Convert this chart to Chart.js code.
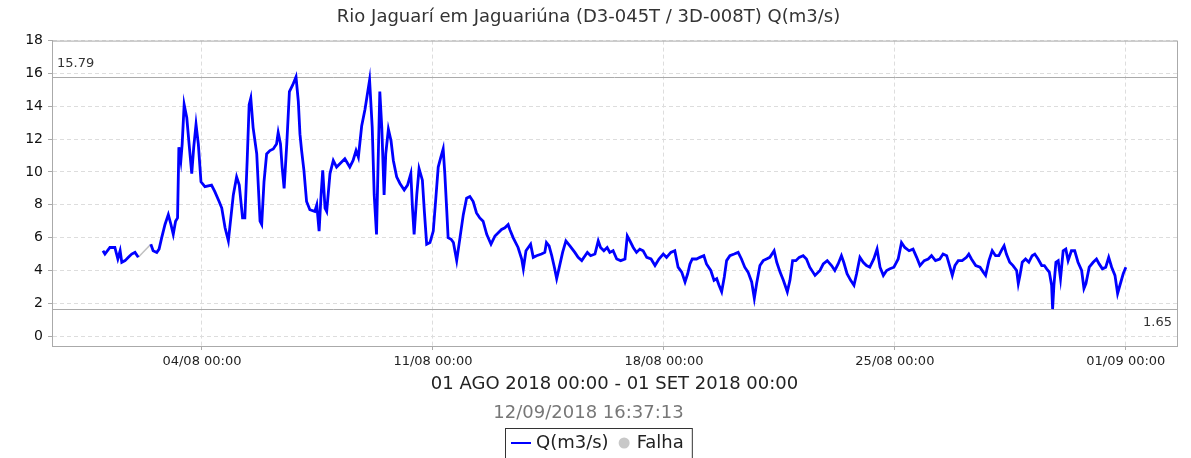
<!DOCTYPE html>
<html>
<head>
<meta charset="utf-8">
<script src="https://cdn.jsdelivr.net/npm/chart.js"></script>
<style>
  html, body { margin: 0; padding: 0; background: #fff; }
  #chart-wrapper { width: 1191px; height: 458px; }
</style>
</head>
<body>
<div id="chart-wrapper"><canvas id="myChart" width="1191" height="458"></canvas></div>
<script>
// days since 01/08/2018 00:00 and flow Q (m3/s)
const flowDays = [
  0.00, 0.06, 0.21, 0.36, 0.45, 0.52, 0.57, 0.67, 0.77, 0.87, 0.97, 1.07, 1.25,
  1.45, 1.52, 1.63, 1.70, 1.78, 1.88, 1.98, 2.06, 2.13, 2.20, 2.26, 2.30, 2.36, 2.40,
  2.46, 2.54, 2.61, 2.69, 2.75, 2.82, 2.89, 2.97, 3.09, 3.29, 3.39, 3.52, 3.60, 3.70,
  3.80, 3.95, 4.05, 4.13, 4.23, 4.30, 4.37, 4.43, 4.48, 4.55, 4.66, 4.76, 4.81, 4.88,
  4.96, 5.06, 5.16, 5.26, 5.31, 5.38, 5.43, 5.49, 5.57, 5.65, 5.75, 5.85, 5.92, 5.97,
  6.02, 6.09, 6.17, 6.27, 6.42, 6.48, 6.55, 6.61, 6.66, 6.73, 6.78, 6.88, 6.98, 7.08,
  7.18, 7.33, 7.48, 7.58, 7.67, 7.74, 7.84, 7.94, 8.08, 8.16, 8.22, 8.29, 8.34, 8.39,
  8.45, 8.52, 8.57, 8.65, 8.73, 8.80, 8.90, 9.00, 9.13, 9.23, 9.33, 9.38, 9.43, 9.51,
  9.58, 9.68, 9.74, 9.81, 9.91, 10.01, 10.08, 10.16, 10.24, 10.31, 10.36, 10.42, 10.46,
  10.55, 10.62, 10.72, 10.82, 10.92, 11.02, 11.12, 11.22, 11.32, 11.42, 11.52, 11.63,
  11.76, 11.88, 11.98, 12.08, 12.18, 12.28, 12.33, 12.43, 12.58, 12.69, 12.74, 12.82,
  12.89, 12.96, 13.04, 13.14, 13.29, 13.39, 13.44, 13.52, 13.60, 13.68, 13.75, 13.83,
  13.93, 14.03, 14.15, 14.30, 14.40, 14.51, 14.61, 14.68, 14.78, 14.91, 15.01, 15.08,
  15.18, 15.28, 15.36, 15.46, 15.57, 15.69, 15.82, 15.89, 15.97, 16.07, 16.17, 16.27,
  16.37, 16.48, 16.61, 16.73, 16.85, 16.98, 17.08, 17.21, 17.33, 17.43, 17.54, 17.64,
  17.72, 17.79, 17.86, 17.99, 18.09, 18.21, 18.29, 18.42, 18.52, 18.60, 18.67, 18.75,
  18.83, 18.90, 19.00, 19.13, 19.25, 19.35, 19.45, 19.55, 19.66, 19.74, 19.81, 19.91,
  20.01, 20.11, 20.21, 20.34, 20.42, 20.52, 20.62, 20.74, 20.82, 20.90, 21.00, 21.10,
  21.22, 21.32, 21.42, 21.58, 21.73, 21.83, 21.95, 22.08, 22.18, 22.28, 22.38, 22.45,
  22.55, 22.66, 22.76, 22.84, 22.94, 23.04, 23.14, 23.24, 23.36, 23.46, 23.55, 23.65,
  23.75, 23.85, 23.97, 24.10, 24.20, 24.30, 24.43, 24.55, 24.66, 24.76, 24.89, 25.01,
  25.11, 25.23, 25.36, 25.46, 25.57, 25.67, 25.74, 25.82, 25.92, 26.04, 26.17, 26.24,
  26.32, 26.45, 26.58, 26.68, 26.75, 26.85, 26.95, 27.05, 27.15, 27.25, 27.31, 27.38,
  27.48, 27.58, 27.69, 27.74, 27.79, 27.86, 27.96, 28.06, 28.16, 28.24, 28.34, 28.45,
  28.53, 28.60, 28.68, 28.75, 28.78, 28.82, 28.88, 28.95, 29.02, 29.10, 29.18, 29.25,
  29.35, 29.45, 29.55, 29.66, 29.73, 29.79, 29.89, 30.01, 30.11, 30.19, 30.29, 30.39,
  30.48, 30.57, 30.67, 30.75, 30.82, 30.92, 31.00
];
const flowValues = [
  5.2, 5.0, 5.4, 5.4, 4.7, 5.2, 4.5, 4.6, 4.8, 5.0, 5.1, 4.8, null,
  5.6, 5.2, 5.1, 5.3, 6.0, 6.8, 7.4, 6.8, 6.2, 7.0, 7.2, 11.5, 10.7, 11.7,
  14.1, 13.3, 11.7, 9.9, 11.5, 12.9, 11.7, 9.4, 9.1, 9.2, 8.8, 8.2, 7.8, 6.6,
  5.8, 8.6, 9.7, 9.2, 7.2, 7.2, 10.7, 14.1, 14.5, 12.7, 11.1, 7.0, 6.8, 9.4,
  11.1, 11.3, 11.4, 11.7, 12.4, 11.7, 10.3, 9.0, 11.7, 14.9, 15.3, 15.79, 14.3, 12.3,
  11.3, 10.1, 8.2, 7.7, 7.6, 8.0, 6.4, 8.6, 10.1, 7.8, 7.6, 9.9, 10.7, 10.3,
  10.5, 10.8, 10.3, 10.7, 11.3, 10.9, 12.8, 13.8, 15.6, 12.7, 8.6, 6.2, 10.7, 14.9,
  12.7, 8.6, 11.1, 12.6, 11.9, 10.7, 9.7, 9.3, 8.9, 9.2, 9.9, 7.8, 6.2, 8.6,
  10.2, 9.5, 7.6, 5.6, 5.7, 6.4, 8.2, 10.3, 10.9, 11.4, 9.9, 7.6, 6.0,
  5.9, 5.7, 4.6, 6.0, 7.4, 8.4, 8.5, 8.2, 7.5, 7.2, 7.0, 6.2,
  5.6, 6.1, 6.3, 6.5, 6.6, 6.8, 6.5, 6.0, 5.4, 4.7, 4.1, 5.2,
  5.4, 5.6, 4.8, 4.9, 5.0, 5.1, 5.7, 5.5, 4.9, 4.2, 3.5, 4.2,
  5.1, 5.8, 5.5, 5.1, 4.8, 4.6, 4.9, 5.1, 4.9, 5.0, 5.8, 5.4,
  5.2, 5.4, 5.1, 5.2, 4.7, 4.6, 4.7, 6.1, 5.8, 5.4, 5.1, 5.3,
  5.2, 4.8, 4.7, 4.3, 4.7, 5.0, 4.8, 5.1, 5.2, 4.2, 3.9, 3.3,
  3.8, 4.4, 4.7, 4.7, 4.8, 4.9, 4.4, 4.0, 3.4, 3.5, 3.1, 2.7,
  3.6, 4.6, 4.9, 5.0, 5.1, 4.7, 4.2, 3.9, 3.3, 2.3, 3.2, 4.3,
  4.6, 4.7, 4.8, 5.2, 4.5, 3.9, 3.4, 2.7, 3.4, 4.6, 4.6, 4.8,
  4.9, 4.7, 4.2, 3.7, 4.0, 4.4, 4.6, 4.3, 4.0, 4.4, 4.9, 4.5,
  3.8, 3.4, 3.1, 3.8, 4.8, 4.5, 4.3, 4.2, 4.7, 5.3, 4.2, 3.7,
  4.0, 4.1, 4.2, 4.7, 5.7, 5.4, 5.2, 5.3, 4.8, 4.3, 4.6, 4.7,
  4.9, 4.6, 4.7, 5.0, 4.9, 4.2, 3.7, 4.3, 4.6, 4.6, 4.8, 5.0,
  4.7, 4.3, 4.2, 3.9, 3.7, 4.6, 5.2, 4.9, 4.9, 5.3, 5.5, 5.0,
  4.5, 4.3, 4.0, 3.2, 3.7, 4.5, 4.7, 4.5, 4.9, 5.0, 4.7, 4.3,
  4.3, 4.1, 3.9, 3.1, 1.65, 3.1, 4.5, 4.6, 3.5, 5.2, 5.3, 4.6,
  5.2, 5.2, 4.5, 4.0, 2.9, 3.2, 4.2, 4.5, 4.7, 4.4, 4.1, 4.2,
  4.8, 4.2, 3.7, 2.6, 3.1, 3.8, 4.2
];

// "Falha" stretch (missing data bridged in grey)
const gapDays = [1.07, 1.45];
const gapValues = [4.8, 5.6];

const xTickDays = [3, 10, 17, 24, 31];
const xTickLabels = ['04/08 00:00', '11/08 00:00', '18/08 00:00', '25/08 00:00', '01/09 00:00'];
const yTickValues = [0, 2, 4, 6, 8, 10, 12, 14, 16, 18];

const MAX_Q = 15.79;
const MIN_Q = 1.65;

const FONT = '"DejaVu Sans", sans-serif';

const toPoints = (xs, ys) => xs.map((x, i) => ({ x: x, y: ys[i] }));

const extrasPlugin = {
  id: 'extras',
  beforeDatasetsDraw(chart) {
    const { ctx, chartArea: a } = chart;
    const y = chart.scales.y;
    ctx.save();
    ctx.strokeStyle = '#aaaaaa';
    ctx.lineWidth = 1;
    [MAX_Q, MIN_Q].forEach(v => {
      const py = Math.round(y.getPixelForValue(v)) + 0.5;
      ctx.beginPath();
      ctx.moveTo(a.left, py);
      ctx.lineTo(a.right, py);
      ctx.stroke();
    });
    ctx.font = '13px ' + FONT;
    ctx.fillStyle = '#333';
    ctx.textAlign = 'left';
    ctx.textBaseline = 'bottom';
    ctx.fillText(MAX_Q.toFixed(2), a.left + 5, y.getPixelForValue(MAX_Q) - 7);
    ctx.textAlign = 'right';
    ctx.textBaseline = 'top';
    ctx.fillText(MIN_Q.toFixed(2), a.right - 5, y.getPixelForValue(MIN_Q) + 7);
    ctx.restore();
  },
  afterDraw(chart) {
    const { ctx, chartArea: a } = chart;
    ctx.save();
    // plot frame
    ctx.strokeStyle = '#aaaaaa';
    ctx.lineWidth = 1;
    ctx.strokeRect(a.left + 0.5, a.top + 0.5, a.right - a.left, a.bottom - a.top);

    // boxed legend at the bottom
    const ds = chart.data.datasets;
    ctx.font = '18px ' + FONT;
    const w1 = ctx.measureText(ds[0].label).width;
    const w2 = ctx.measureText(ds[1].label).width;
    const total = 6 + 20 + 5 + w1 + 10 + 11 + 7 + w2 + 8;
    const left = Math.round(chart.width / 2 - total / 2 + 3);
    const cy = 443;
    ctx.strokeStyle = '#333';
    ctx.strokeRect(left + 0.5, 428.5, total, 40);
    let x = left + 6;
    ctx.strokeStyle = ds[0].borderColor;
    ctx.lineWidth = 2;
    ctx.beginPath();
    ctx.moveTo(x, cy);
    ctx.lineTo(x + 20, cy);
    ctx.stroke();
    x += 25;
    ctx.fillStyle = '#222';
    ctx.textAlign = 'left';
    ctx.textBaseline = 'middle';
    ctx.fillText(ds[0].label, x, cy);
    x += w1 + 10;
    ctx.fillStyle = '#c8c8c8';
    ctx.beginPath();
    ctx.arc(x + 5.5, cy, 5.5, 0, Math.PI * 2);
    ctx.fill();
    x += 18;
    ctx.fillStyle = '#222';
    ctx.fillText(ds[1].label, x, cy);
    ctx.restore();
  }
};

const ctx = document.getElementById('myChart');
new Chart(ctx, {
  type: 'line',
  data: {
    datasets: [
      {
        label: 'Q(m3/s)',
        data: toPoints(flowDays, flowValues),
        borderColor: '#0000ff',
        borderWidth: 2.8,
        pointRadius: 0,
        tension: 0,
        spanGaps: false,
        fill: false
      },
      {
        label: 'Falha',
        data: toPoints(gapDays, gapValues),
        borderColor: '#c0c0c0',
        borderWidth: 1.5,
        pointRadius: 0,
        fill: false
      }
    ]
  },
  options: {
    responsive: false,
    animation: false,
    devicePixelRatio: 1,
    layout: { padding: { left: 0, right: 14, top: 0, bottom: 34 } },
    plugins: {
      legend: { display: false },
      tooltip: { enabled: false },
      title: {
        display: true,
        text: 'Rio Jaguarí em Jaguariúna (D3-045T / 3D-008T) Q(m3/s)',
        color: '#333',
        font: { family: FONT, size: 18, weight: 'normal' },
        padding: { top: 7, bottom: 12 }
      },
      subtitle: {
        display: true,
        position: 'bottom',
        weight: 500,
        text: '12/09/2018 16:37:13',
        color: '#777',
        font: { family: FONT, size: 18, weight: 'normal' },
        padding: { top: 8, bottom: 0 }
      }
    },
    scales: {
      x: {
        type: 'linear',
        min: -1.545,
        max: 32.55,
        afterBuildTicks: scale => { scale.ticks = xTickDays.map(v => ({ value: v })); },
        ticks: {
          autoSkip: false,
          maxRotation: 0,
          padding: 4,
          color: '#222',
          font: { family: FONT, size: 13 },
          callback: value => xTickLabels[xTickDays.indexOf(value)]
        },
        grid: { color: '#dddddd', tickColor: '#aaaaaa', tickLength: 4 },
        border: { color: '#aaaaaa', dash: [4, 3] },
        title: {
          display: true,
          text: '01 AGO 2018 00:00 - 01 SET 2018 00:00',
          color: '#222',
          font: { family: FONT, size: 18, lineHeight: 1.1 },
          padding: { top: 1, bottom: 0 }
        }
      },
      y: {
        min: -0.6,
        max: 18,
        afterBuildTicks: scale => { scale.ticks = yTickValues.map(v => ({ value: v })); },
        afterFit: scale => { scale.width = 52; },
        ticks: {
          padding: 5,
          color: '#111',
          font: { family: FONT, size: 14 }
        },
        grid: { color: '#dddddd', tickColor: '#aaaaaa', tickLength: 4 },
        border: { color: '#aaaaaa', dash: [4, 3] }
      }
    }
  },
  plugins: [extrasPlugin]
});
</script>
</body>
</html>
